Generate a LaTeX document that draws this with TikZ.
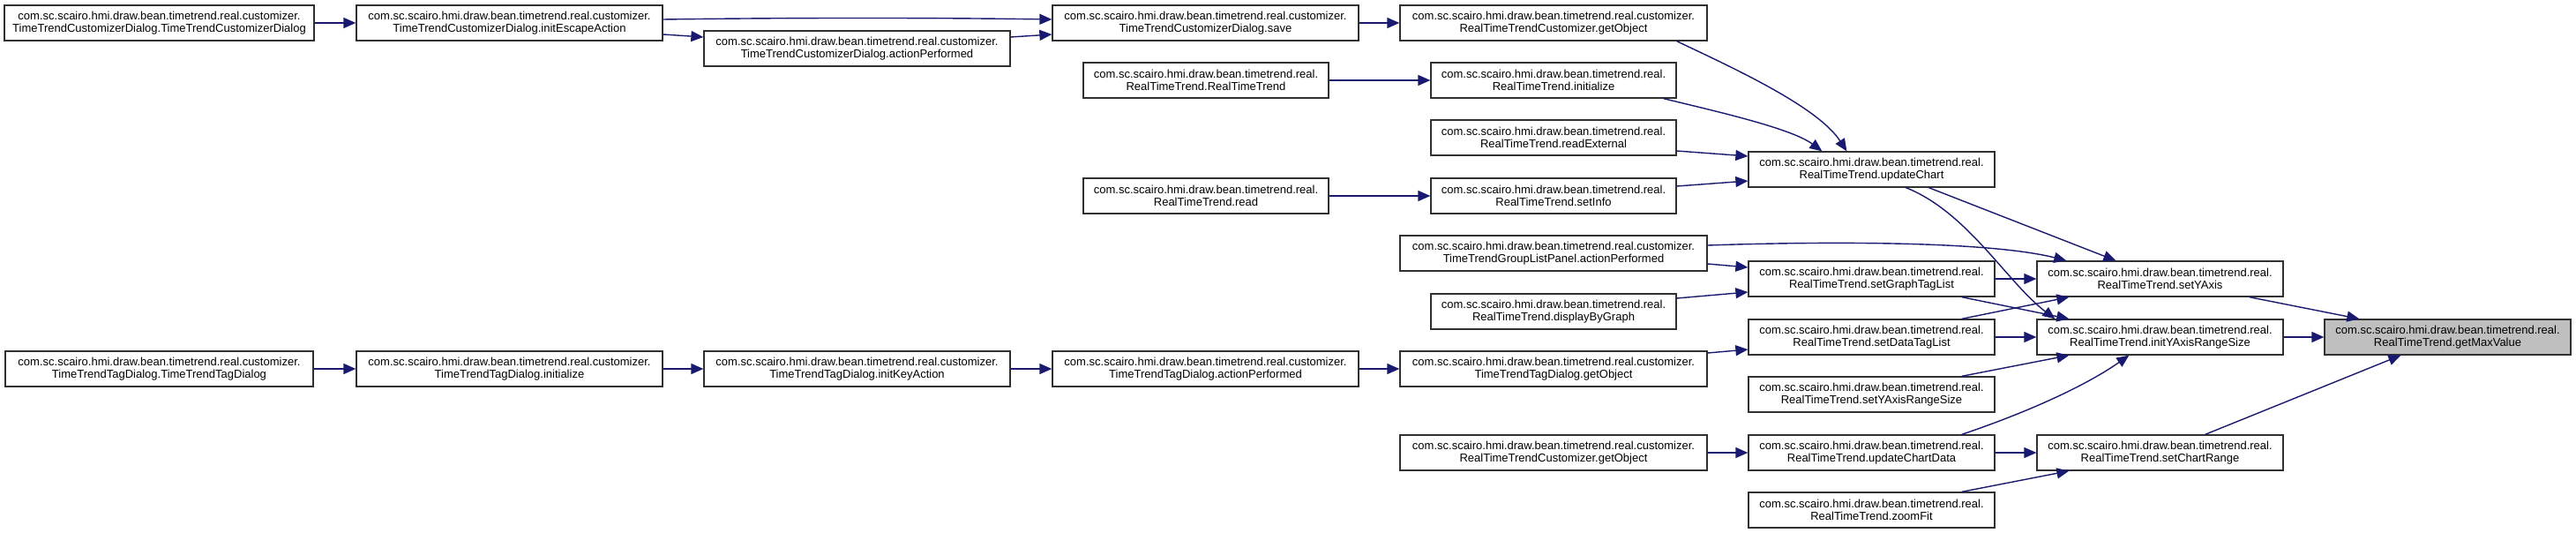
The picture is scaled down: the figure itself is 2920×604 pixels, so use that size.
\documentclass[tikz,border=0pt]{standalone}
\usepackage{fontspec}
\setmainfont{Liberation Sans}
\usetikzlibrary{arrows.meta}
\definecolor{edgecol}{HTML}{191970}
\definecolor{boxline}{HTML}{303030}
\definecolor{hilite}{HTML}{BFBFBF}
\tikzset{
  fn/.style={draw=boxline, line width=1.3pt, fill=white, inner sep=0pt,
    minimum height=40pt, align=center, font=\fontsize{13}{14}\selectfont},
  wide/.style={fn, minimum width=347pt},
  narrow/.style={fn, minimum width=279pt},
  cur/.style={narrow, fill=hilite},
  call/.style={draw=edgecol, line width=1.4pt,
    -{Triangle[length=14pt,width=12pt]}, color=edgecol}
}
\newcommand{\pc}{com.sc.scairo.hmi.draw.bean.timetrend.real.customizer.\\}
\newcommand{\pr}{com.sc.scairo.hmi.draw.bean.timetrend.real.\\}
\begin{document}
\begin{tikzpicture}[x=1pt,y=-1pt]
\useasboundingbox[fill=white] (0,0) rectangle (2920,604);
% column 1-3
\node[wide, minimum width=351pt] (A1) at (180.5,26) {\pc TimeTrendCustomizerDialog.TimeTrendCustomizerDialog};
\node[wide] (A2) at (577.5,26) {\pc TimeTrendCustomizerDialog.initEscapeAction};
\node[wide] (A3) at (971.5,55) {\pc TimeTrendCustomizerDialog.actionPerformed};
\node[wide, minimum width=349pt] (J1) at (180.5,418) {\pc TimeTrendTagDialog.TimeTrendTagDialog};
\node[wide] (J2) at (577.5,418) {\pc TimeTrendTagDialog.initialize};
\node[wide] (J3) at (971.5,418) {\pc TimeTrendTagDialog.initKeyAction};
% column 4
\node[wide] (A4) at (1366.5,26) {\pc TimeTrendCustomizerDialog.save};
\node[narrow, minimum width=278pt] (B4) at (1367,91) {\pr RealTimeTrend.RealTimeTrend};
\node[narrow, minimum width=278pt] (E4) at (1367,222) {\pr RealTimeTrend.read};
\node[wide] (J4) at (1366.5,418) {\pc TimeTrendTagDialog.actionPerformed};
% column 5
\node[wide, minimum width=348pt] (A5) at (1761,26) {\pc RealTimeTrendCustomizer.getObject};
\node[narrow, minimum width=278pt] (B5) at (1761,91) {\pr RealTimeTrend.initialize};
\node[narrow, minimum width=278pt] (C5) at (1761,156) {\pr RealTimeTrend.readExternal};
\node[narrow, minimum width=278pt] (E5) at (1761,222) {\pr RealTimeTrend.setInfo};
\node[wide, minimum width=348pt] (F5) at (1761,287) {\pc TimeTrendGroupListPanel.actionPerformed};
\node[narrow, minimum width=278pt] (H5) at (1761,353) {\pr RealTimeTrend.displayByGraph};
\node[wide, minimum width=348pt] (J5) at (1761,418) {\pc TimeTrendTagDialog.getObject};
\node[wide, minimum width=348pt] (L5) at (1761,513) {\pc RealTimeTrendCustomizer.getObject};
% column 6
\node[narrow] (D6) at (2121.5,192) {\pr RealTimeTrend.updateChart};
\node[narrow] (G6) at (2121.5,316) {\pr RealTimeTrend.setGraphTagList};
\node[narrow] (I6) at (2121.5,382) {\pr RealTimeTrend.setDataTagList};
\node[narrow] (K6) at (2121.5,447) {\pr RealTimeTrend.setYAxisRangeSize};
\node[narrow] (L6) at (2121.5,513) {\pr RealTimeTrend.updateChartData};
\node[narrow] (M6) at (2121.5,578) {\pr RealTimeTrend.zoomFit};
% column 7
\node[narrow] (G7) at (2448.5,316) {\pr RealTimeTrend.setYAxis};
\node[narrow] (I7) at (2448.5,382) {\pr RealTimeTrend.initYAxisRangeSize};
\node[narrow] (L7) at (2448.5,513) {\pr RealTimeTrend.setChartRange};
% column 8
\node[cur] (I8) at (2774.5,382) {\pr RealTimeTrend.getMaxValue};

% edges
\draw[call] (A1.east) -- (A2.west);
\draw[call] ([yshift=4pt]A2.east) .. controls (900,20) and (1050,20) .. ([yshift=4pt]A4.west);
\draw[call] ([yshift=-13pt]A2.east) -- ([yshift=13pt]A3.west);
\draw[call] ([yshift=13pt]A3.east) -- ([yshift=-13pt]A4.west);
\draw[call] (A4.east) -- (A5.west);
\draw[call] ([xshift=-35pt]A5.south east) .. controls (1960,75) and (2060,120) .. ([xshift=112pt]D6.north west);
\draw[call] (B4.east) -- (B5.west);
\draw[call] ([xshift=-15pt]B5.south east) .. controls (1940,125) and (2030,145) .. ([xshift=84pt]D6.north west);
\draw[call] ([yshift=-15pt]C5.east) -- ([yshift=15pt]D6.west);
\draw[call] (E4.east) -- (E5.west);
\draw[call] ([yshift=11pt]E5.east) -- ([yshift=-13pt]D6.west);
\draw[call] ([yshift=9pt]F5.east) .. controls (2050,274) and (2250,272) .. ([xshift=34pt]G7.north west);
\draw[call] ([yshift=-12pt]F5.east) -- ([yshift=13pt]G6.west);
\draw[call] ([yshift=15pt]H5.east) -- ([yshift=-15pt]G6.west);
\draw[call] ([yshift=18pt]J5.east) -- ([yshift=-14pt]I6.west);
\draw[call] (L5.east) -- (L6.west);
\draw[call] ([xshift=205pt]D6.south west) -- ([xshift=90pt]G7.north west);
\draw[call] ([xshift=179pt]D6.south west) .. controls (2230,240) and (2275,320) .. ([xshift=21pt]I7.north west);
\draw[call] (G6.east) -- (G7.west);
\draw[call] ([xshift=-38pt]G6.south east) -- ([xshift=37pt]I7.north west);
\draw[call] ([xshift=-38pt]I6.north east) -- ([xshift=37pt]G7.south west);
\draw[call] (I6.east) -- (I7.west);
\draw[call] ([xshift=-38pt]K6.north east) -- ([xshift=37pt]I7.south west);
\draw[call] ([xshift=-38pt]L6.north east) .. controls (2290,470) and (2360,440) .. ([xshift=105pt]I7.south west);
\draw[call] (L6.east) -- (L7.west);
\draw[call] ([xshift=-38pt]M6.north east) -- ([xshift=37pt]L7.south west);
\draw[call] ([xshift=-39pt]G7.south east) -- ([xshift=40pt]I8.north west);
\draw[call] (I7.east) -- (I8.west);
\draw[call] ([xshift=-89pt]L7.north east) -- ([xshift=87pt]I8.south west);
\draw[call] (J1.east) -- (J2.west);
\draw[call] (J2.east) -- (J3.west);
\draw[call] (J3.east) -- (J4.west);
\draw[call] (J4.east) -- (J5.west);
\end{tikzpicture}
\end{document}
